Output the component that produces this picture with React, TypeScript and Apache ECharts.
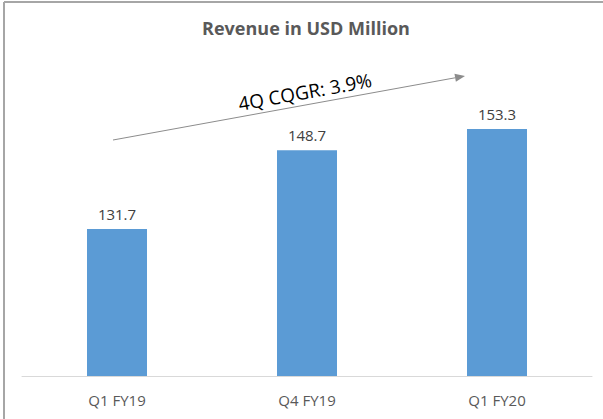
import React, { useEffect, useRef } from "react";
import * as echarts from "echarts";

const categories = ["Q1 FY19", "Q4 FY19", "Q1 FY20"];
const revenue = [131.7, 148.7, 153.3];
const titleText = "Revenue in USD Million";
const growthText = "4Q CQGR: 3.9%";

export default function App() {
  const ref = useRef<HTMLDivElement>(null);
  useEffect(() => {
    if (!ref.current) return;
    const chart = echarts.init(ref.current, null, { renderer: "svg" });
    const tip = [465, 76];
    const start = [113, 140];
    const dx = tip[0] - start[0];
    const dy = tip[1] - start[1];
    const len = Math.sqrt(dx * dx + dy * dy);
    const ux = dx / len;
    const uy = dy / len;
    const nx = -uy;
    const ny = ux;
    const base = [tip[0] - 10 * ux, tip[1] - 10 * uy];
    const angle = Math.atan2(-dy, dx);
    chart.setOption({
      animation: false,
      backgroundColor: "#ffffff",
      textStyle: { fontFamily: "Open Sans" },
      grid: { left: 22, right: 11, top: 98, bottom: 43, containLabel: false },
      xAxis: {
        type: "category",
        data: categories,
        axisLine: { show: true, lineStyle: { color: "#D9D9D9", width: 1 } },
        axisTick: { show: false },
        axisLabel: { color: "#595959", fontSize: 15, margin: 16, fontFamily: "Open Sans" },
      },
      yAxis: {
        type: "value",
        min: 100,
        max: 160,
        show: false,
        splitLine: { show: false },
      },
      series: [
        {
          type: "bar",
          data: revenue,
          barWidth: 60,
          itemStyle: { color: "#5B9BD5" },
          label: {
            show: true,
            position: "top",
            distance: 8,
            color: "#404040",
            fontSize: 15,
            fontFamily: "Open Sans",
            formatter: (p: any) => p.value.toFixed(1),
          },
        },
      ],
      graphic: [
        { type: "line", shape: { x1: 4, y1: 2, x2: 603, y2: 2 }, style: { stroke: "#A6A6A6", lineWidth: 2 } },
        { type: "line", shape: { x1: 4, y1: 2, x2: 4, y2: 419 }, style: { stroke: "#A6A6A6", lineWidth: 2 } },
        {
          type: "text",
          x: 306,
          y: 28,
          style: {
            text: titleText,
            fill: "#595959",
            fontSize: 18,
            fontWeight: "bold",
            fontFamily: "Open Sans",
            align: "center",
            verticalAlign: "middle",
          },
        },
        {
          type: "line",
          shape: { x1: start[0], y1: start[1], x2: base[0], y2: base[1] },
          style: { stroke: "#8C8C8C", lineWidth: 1 },
        },
        {
          type: "polygon",
          shape: {
            points: [
              [tip[0], tip[1]],
              [base[0] + 4 * nx, base[1] + 4 * ny],
              [base[0] - 4 * nx, base[1] - 4 * ny],
            ],
          },
          style: { fill: "#8C8C8C" },
        },
        {
          type: "text",
          x: 305,
          y: 92,
          rotation: angle,
          style: {
            text: growthText,
            fill: "#000000",
            fontSize: 19,
            fontFamily: "Open Sans",
            align: "center",
            verticalAlign: "middle",
          },
        },
      ],
    });
    return () => chart.dispose();
  }, []);
  return (
    <div
      ref={ref}
      style={{ position: "fixed", left: 0, top: 0, width: 603, height: 419 }}
    />
  );
}
